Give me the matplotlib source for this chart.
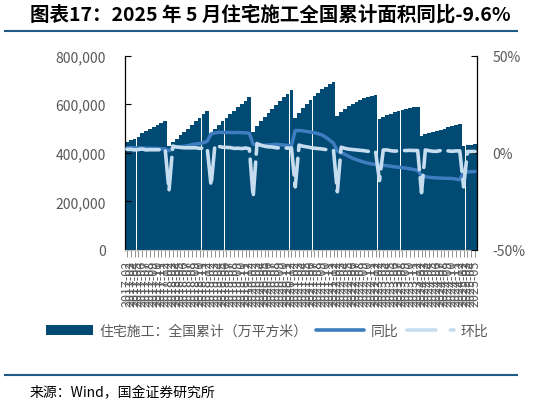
import matplotlib
matplotlib.use("Agg")
import matplotlib.pyplot as plt
from matplotlib.patches import Patch
from matplotlib.lines import Line2D
import numpy as np

plt.rcParams['font.family'] = ['Noto Sans CJK SC', 'DejaVu Sans']

# categories: Feb..Dec each year (no January data), up to 2025-05
months = [f"{y}-{m:02d}" for y in range(2017, 2026) for m in range(2, 13)
          if not (y == 2025 and m > 5)]

# 住宅施工：全国累计（万平方米）
area = [
    444000, 452000, 459000, 467000, 482000, 489000, 497000, 505000, 513000, 521000, 531000,  # 2017
    428000, 445000, 459000, 473000, 486000, 500000, 515000, 531000, 543000, 558000, 571000,  # 2018
    478000, 498000, 515000, 530000, 545000, 560000, 573000, 587000, 600000, 615000, 628000,  # 2019
    486000, 510000, 530000, 548000, 565000, 582000, 597000, 612000, 628000, 643000, 659000,  # 2020
    544000, 566000, 585000, 603000, 619000, 634000, 648000, 661000, 672000, 682000, 690000,  # 2021
    552000, 568000, 581000, 592000, 602000, 611000, 619000, 626000, 631000, 635000, 639000,  # 2022
    540000, 548000, 556000, 562000, 567000, 572000, 576000, 580000, 584000, 587000, 590000,  # 2023
    469000, 476000, 481000, 485000, 489000, 495000, 500000, 505000, 509000, 514000, 519000,  # 2024
    428000, 431000, 434000, 437000,                                                          # 2025
]

# 同比 (%)
yoy = [
    2.5, 2.6, 2.6, 2.5, 2.5, 2.4, 2.4, 2.3, 2.2, 2.1, 2.0,
    1.1, 2.5, 3.0, 3.2, 3.4, 3.8, 4.2, 4.6, 4.8, 5.2, 6.0,
    9.8, 10.2, 10.6, 10.5, 10.5, 10.5, 10.4, 10.5, 10.4, 10.3, 10.1,
    4.4, 4.2, 4.0, 3.9, 4.0, 4.2, 4.4, 4.2, 4.0, 3.8, 3.7,
    11.5, 11.5, 11.3, 11.0, 10.7, 10.3, 9.8, 9.2, 8.0, 6.5, 5.0,
    1.0, 0.0, -0.8, -1.8, -2.8, -3.5, -4.2, -4.8, -5.3, -5.7, -6.0,
    -6.3, -6.5, -6.6, -6.9, -7.2, -7.4, -7.6, -7.9, -8.2, -8.6, -9.0,
    -11.7, -12.3, -12.6, -12.8, -12.9, -13.0, -13.1, -13.1, -13.2, -13.5, -13.8,
    -10.0, -9.8, -9.7, -9.6,
]

# 环比 (%)
mom = [
    1.8, 1.8, 1.5, 1.7, 2.0, 1.5, 1.6, 1.6, 1.6, 1.6, 1.9,
    -19.4, 3.5, 3.0, 2.8, 2.6, 2.6, 2.6, 2.6, 2.3, 2.5, 2.3,
    -16.9, 4.0, 3.3, 2.9, 2.8, 2.7, 2.3, 2.4, 2.2, 2.5, 2.1,
    -22.7, 4.8, 3.9, 3.4, 3.1, 3.0, 2.6, 2.5, 2.6, 2.4, 2.5,
    -17.5, 4.0, 3.4, 3.1, 2.7, 2.4, 2.2, 2.0, 1.7, 1.5, 1.2,
    -20.0, 2.9, 2.3, 1.9, 1.7, 1.5, 1.3, 1.1, 0.8, 0.6, 0.6,
    -14.3, 1.5, 1.5, 1.1, 0.9, 1.0, 1.2, 1.2, 1.3, 1.2, 1.2,
    -20.5, 1.5, 1.1, 0.8, 0.8, 1.2, 1.0, 1.0, 0.8, 1.0, 1.0,
    -17.5, 0.7, 0.7, 0.7,
]

BAR_C = '#004a73'
YOY_C = '#3f7dc0'
MOM_C = '#c6dcef'
GREY = '#595959'

fig = plt.figure(figsize=(5.59, 4.06), dpi=100)
ax = fig.add_axes([125 / 559, 1 - 251 / 406, 352 / 559, 194.3 / 406])
x = np.arange(len(months))

ax.bar(x, area, width=0.97, color=BAR_C, linewidth=0)
ax.set_xlim(-0.5, len(months) - 0.5)
ax.set_ylim(0, 800000)
ax.set_yticks(range(0, 800001, 200000))
ax.set_yticklabels(['0'] + [f'{v:,}' for v in range(200000, 800001, 200000)])
ax.tick_params(axis='y', direction='in', length=4, width=0.8, colors='black',
               labelcolor=GREY, labelsize=10, pad=14)
ax.set_xticks(x)
ax.set_xticklabels(months, rotation=90, fontsize=9, color=GREY)
ax.tick_params(axis='x', length=5, width=0.6, colors='#808080', labelcolor=GREY, pad=2)
ax.spines['top'].set_visible(False)
ax.spines['right'].set_visible(False)
ax.spines['bottom'].set_color('#bfbfbf')
ax.spines['left'].set_linewidth(0.9)

ax2 = ax.twinx()
ax2.plot(x, yoy, color=YOY_C, lw=2.5, solid_capstyle='round', solid_joinstyle='round')
ax2.plot(x, mom, color=MOM_C, lw=2.6, dashes=(9, 2.2), dash_capstyle='round',
         dash_joinstyle='round')
ax2.set_ylim(-50, 50)
ax2.set_yticks([-50, 0, 50])
ax2.set_yticklabels(['-50%', '0%', '50%'])
ax2.tick_params(axis='y', direction='in', length=4, width=0.8, colors='black',
                labelcolor=GREY, labelsize=10, pad=11)
for s in ['top', 'left', 'bottom']:
    ax2.spines[s].set_visible(False)
ax2.spines['right'].set_linewidth(0.9)

handles = [
    Patch(facecolor=BAR_C, edgecolor='none'),
    Line2D([], [], color=YOY_C, lw=2.6, solid_capstyle='round'),
    Line2D([], [], color=MOM_C, lw=2.6, dashes=(8, 4), dash_capstyle='round'),
]
labels = ['住宅施工：全国累计（万平方米）', '同比', '环比']
fig.legend(handles, labels, loc='center', bbox_to_anchor=(0.478, 1 - 332 / 406),
           ncol=3, frameon=False, fontsize=10, handlelength=3.4,
           columnspacing=0.6, handletextpad=0.5, labelcolor=GREY)

fig.text(30 / 559, 1 - 15 / 406, '图表17：2025 年 5 月住宅施工全国累计面积同比-9.6%',
         fontsize=14, fontweight='bold', style='italic', ha='left', va='center')
fig.add_artist(Line2D([5 / 559, 517 / 559], [1 - 32 / 406] * 2, color='#1f5b86', lw=1.5))
fig.add_artist(Line2D([5 / 559, 517 / 559], [1 - 376 / 406] * 2, color='#1f5b86', lw=1.5))
fig.text(30 / 559, 1 - 393 / 406, '来源：Wind，国金证券研究所', fontsize=10, va='center')

fig.savefig('out.png', dpi=100)
